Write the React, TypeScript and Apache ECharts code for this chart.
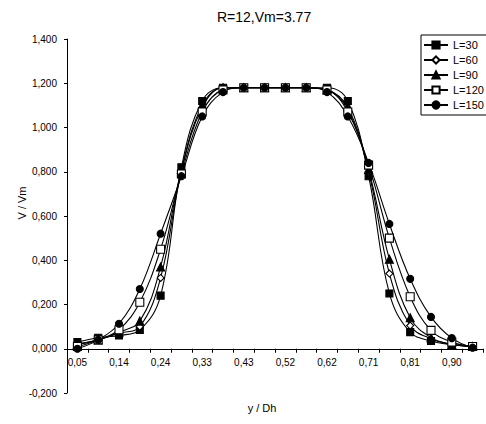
import React, { useEffect, useRef } from "react";
import * as echarts from "echarts";

const categories = ["0.05","0.10","0.14","0.19","0.24","0.29","0.33","0.38","0.43","0.48","0.52","0.57","0.62","0.67","0.71","0.76","0.81","0.86","0.90","0.95"];
const L30 = [0.03, 0.05, 0.06, 0.085, 0.24, 0.82, 1.12, 1.18, 1.18, 1.18, 1.18, 1.18, 1.18, 1.12, 0.78, 0.25, 0.075, 0.035, 0.018, 0.01];
const L60 = [0.02, 0.04, 0.07, 0.10, 0.32, 0.80, 1.09, 1.18, 1.18, 1.18, 1.18, 1.18, 1.17, 1.08, 0.80, 0.34, 0.105, 0.045, 0.02, 0.01];
const L90 = [0.02, 0.04, 0.075, 0.125, 0.37, 0.81, 1.10, 1.18, 1.18, 1.18, 1.18, 1.18, 1.17, 1.09, 0.81, 0.405, 0.14, 0.05, 0.02, 0.01];
const L120 = [0.01, 0.04, 0.086, 0.21, 0.45, 0.79, 1.07, 1.17, 1.18, 1.18, 1.18, 1.18, 1.17, 1.07, 0.83, 0.50, 0.235, 0.083, 0.03, 0.01];
const L150 = [0.0, 0.04, 0.113, 0.27, 0.52, 0.78, 1.05, 1.16, 1.18, 1.18, 1.18, 1.18, 1.16, 1.05, 0.84, 0.564, 0.316, 0.144, 0.048, 0.005];
const seriesNames = ["L=30", "L=60", "L=90", "L=120", "L=150"];

const FONT = "'Liberation Sans', Arial, sans-serif";

const W = 486;
const H = 424;
const GRID_TOP = 39;
const GRID_BOTTOM = 31;
const Y_MIN = -0.2;
const Y_MAX = 1.4;

export default function App() {
  const ref = useRef<HTMLDivElement>(null);
  useEffect(() => {
    document.body.style.margin = "0";
    if (!ref.current) return;
    const chart = echarts.init(ref.current, undefined, { renderer: "svg" });
    const plotH = H - GRID_TOP - GRID_BOTTOM;
    const zeroOffset = (plotH * (0 - Y_MIN)) / (Y_MAX - Y_MIN);
    const mk = (name: string, data: number[], symbol: string, size: number, filled: boolean) => ({
      name,
      type: "line",
      data,
      smooth: 0.4,
      symbol,
      symbolSize: size,
      showSymbol: true,
      lineStyle: { color: "#000", width: 1.1 },
      itemStyle: { color: filled ? "#000" : "#fff", borderColor: "#000", borderWidth: 1.1 },
      emphasis: { disabled: true },
      z: 2,
    });
    chart.setOption({
      animation: false,
      backgroundColor: "#fff",
      textStyle: { fontFamily: FONT },
      title: {
        text: "R=12,Vm=3.77",
        left: 212,
        top: 5,
        textStyle: { fontFamily: FONT, fontSize: 14, fontWeight: "normal", color: "#000" },
      },
      legend: {
        orient: "vertical",
        left: 421,
        top: 35,
        padding: [4, 3, 4, 2],
        itemWidth: 24,
        itemHeight: 9,
        itemGap: 3,
        borderColor: "#000",
        borderWidth: 1,
        backgroundColor: "#fff",
        textStyle: { fontFamily: FONT, fontSize: 11, color: "#000", lineHeight: 12 },
        data: seriesNames,
      },
      grid: { left: 67, right: 3, top: GRID_TOP, bottom: GRID_BOTTOM, containLabel: false },
      xAxis: {
        type: "category",
        data: categories,
        boundaryGap: true,
        position: "bottom",
        offset: -zeroOffset,
        axisLine: { onZero: false, lineStyle: { color: "#000", width: 1 } },
        axisTick: { show: true, interval: 0, length: 4, lineStyle: { color: "#000" } },
        axisLabel: {
          interval: 1,
          margin: 9,
          fontSize: 10,
          fontFamily: FONT,
          color: "#000",
          formatter: (v: string) => v.replace(".", ","),
        },
        splitLine: { show: false },
      },
      yAxis: {
        type: "value",
        min: Y_MIN,
        max: Y_MAX,
        interval: 0.2,
        axisLine: { show: true, lineStyle: { color: "#000", width: 1 } },
        axisTick: { show: true, length: 3, lineStyle: { color: "#000" } },
        axisLabel: {
          margin: 10,
          fontSize: 10,
          fontFamily: FONT,
          color: "#000",
          formatter: (v: number) => v.toFixed(3).replace(".", ","),
        },
        splitLine: { show: false },
      },
      graphic: [
        {
          type: "text",
          x: 22,
          y: 203,
          rotation: Math.PI / 2,
          style: { text: "V / Vm", fontFamily: FONT, fontSize: 11, fill: "#000", align: "center", verticalAlign: "middle" },
        },
        {
          type: "text",
          x: 262,
          y: 408,
          style: { text: "y / Dh", fontFamily: FONT, fontSize: 11, fill: "#000", align: "center", verticalAlign: "middle" },
        },
      ],
      series: [
        mk("L=30", L30, "rect", 7, true),
        mk("L=60", L60, "diamond", 7, false),
        mk("L=90", L90, "triangle", 8, true),
        mk("L=120", L120, "rect", 8, false),
        mk("L=150", L150, "circle", 7, true),
      ],
    });
    return () => chart.dispose();
  }, []);
  return <div ref={ref} style={{ width: W, height: H }} />;
}
